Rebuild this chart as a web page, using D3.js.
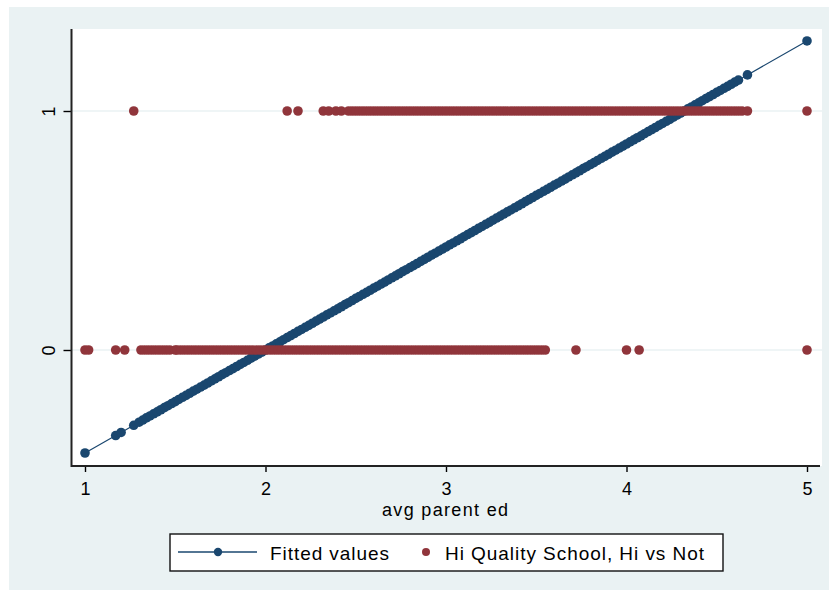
<!DOCTYPE html>
<html>
<head>
<meta charset="utf-8">
<script src="https://cdn.jsdelivr.net/npm/d3@7/dist/d3.min.js"></script>
<style>
  html, body { margin: 0; padding: 0; background: #ffffff; }
  svg { display: block; }
  text { font-family: "Liberation Sans", Arial, Helvetica, sans-serif; fill: #000; }
</style>
</head>
<body>
<svg id="chart" width="831" height="596"></svg>
<script>
// ---------------- data ----------------
const xTicks = [1, 2, 3, 4, 5];
const yTicks = [0, 1];
const xTitle = "avg parent ed";
const seriesNames = ["Fitted values", "Hi Quality School, Hi vs Not"];

// avg parent ed values of observations with Hi Quality School = 0
const loX = [1.00, 1.02, 1.17, 1.22,
  1.31, 1.33, 1.35, 1.37, 1.39, 1.41, 1.43, 1.45, 1.47, 1.50,
  1.51, 1.53, 1.55, 1.57, 1.59, 1.61, 1.63, 1.65, 1.67, 1.69,
  1.71, 1.73, 1.75, 1.77, 1.79, 1.81, 1.83, 1.85, 1.87, 1.89,
  1.91, 1.93, 1.95, 1.97, 1.99, 2.01, 2.03, 2.05, 2.07, 2.09,
  2.11, 2.13, 2.15, 2.17, 2.19, 2.21, 2.23, 2.25, 2.27, 2.29,
  2.31, 2.33, 2.35, 2.37, 2.39, 2.41, 2.43, 2.45, 2.47, 2.49,
  2.51, 2.53, 2.55, 2.57, 2.59, 2.61, 2.63, 2.65, 2.67, 2.69,
  2.71, 2.73, 2.75, 2.77, 2.79, 2.81, 2.83, 2.85, 2.87, 2.89,
  2.91, 2.93, 2.95, 2.97, 2.99, 3.01, 3.03, 3.05, 3.07, 3.09,
  3.11, 3.13, 3.15, 3.17, 3.19, 3.21, 3.23, 3.25, 3.27, 3.29,
  3.31, 3.33, 3.35, 3.37, 3.39, 3.41, 3.43, 3.45, 3.47, 3.49,
  3.51, 3.53, 3.55,
  3.72, 4.00, 4.07, 5.00];

// avg parent ed values of observations with Hi Quality School = 1
const hiX = [1.27, 2.12, 2.18, 2.32, 2.35, 2.39, 2.42,
  2.46, 2.48, 2.50, 2.52, 2.54, 2.56, 2.58, 2.60, 2.62, 2.64,
  2.66, 2.68, 2.70, 2.72, 2.74, 2.76, 2.78, 2.80, 2.82, 2.84,
  2.86, 2.88, 2.90, 2.92, 2.94, 2.96, 2.98, 3.00, 3.02, 3.04,
  3.06, 3.08, 3.10, 3.12, 3.14, 3.16, 3.18, 3.20, 3.22, 3.24,
  3.26, 3.28, 3.30, 3.32, 3.34, 3.36, 3.38, 3.40, 3.42, 3.44,
  3.46, 3.48, 3.50, 3.52, 3.54, 3.56, 3.58, 3.60, 3.62, 3.64,
  3.66, 3.68, 3.70, 3.72, 3.74, 3.76, 3.78, 3.80, 3.82, 3.84,
  3.86, 3.88, 3.90, 3.92, 3.94, 3.96, 3.98, 4.00, 4.02, 4.04,
  4.06, 4.08, 4.10, 4.12, 4.14, 4.16, 4.18, 4.20, 4.22, 4.24,
  4.26, 4.28, 4.30, 4.32, 4.34, 4.36, 4.38, 4.40, 4.42, 4.44,
  4.46, 4.48, 4.50, 4.52, 4.54, 4.56, 4.58, 4.60, 4.62, 4.64,
  4.67, 5.00];

// fitted values (linear fit), at each distinct avg parent ed
const fitX = [1.00, 1.17, 1.20, 1.27,
  1.30, 1.32, 1.34, 1.36, 1.38, 1.40, 1.42, 1.44, 1.46, 1.48,
  1.50, 1.52, 1.54, 1.56, 1.58, 1.60, 1.62, 1.64, 1.66, 1.68,
  1.70, 1.72, 1.74, 1.76, 1.78, 1.80, 1.82, 1.84, 1.86, 1.88,
  1.90, 1.92, 1.94, 1.96, 1.98, 2.00, 2.02, 2.04, 2.06, 2.08,
  2.10, 2.12, 2.14, 2.16, 2.18, 2.20, 2.22, 2.24, 2.26, 2.28,
  2.30, 2.32, 2.34, 2.36, 2.38, 2.40, 2.42, 2.44, 2.46, 2.48,
  2.50, 2.52, 2.54, 2.56, 2.58, 2.60, 2.62, 2.64, 2.66, 2.68,
  2.70, 2.72, 2.74, 2.76, 2.78, 2.80, 2.82, 2.84, 2.86, 2.88,
  2.90, 2.92, 2.94, 2.96, 2.98, 3.00, 3.02, 3.04, 3.06, 3.08,
  3.10, 3.12, 3.14, 3.16, 3.18, 3.20, 3.22, 3.24, 3.26, 3.28,
  3.30, 3.32, 3.34, 3.36, 3.38, 3.40, 3.42, 3.44, 3.46, 3.48,
  3.50, 3.52, 3.54, 3.56, 3.58, 3.60, 3.62, 3.64, 3.66, 3.68,
  3.70, 3.72, 3.74, 3.76, 3.78, 3.80, 3.82, 3.84, 3.86, 3.88,
  3.90, 3.92, 3.94, 3.96, 3.98, 4.00, 4.02, 4.04, 4.06, 4.08,
  4.10, 4.12, 4.14, 4.16, 4.18, 4.20, 4.22, 4.24, 4.26, 4.28,
  4.30, 4.32, 4.34, 4.36, 4.38, 4.40, 4.42, 4.44, 4.46, 4.48,
  4.50, 4.52, 4.54, 4.56, 4.58, 4.60, 4.62,
  4.67, 5.00];
const fitY = [-0.431, -0.358, -0.345, -0.315,
  -0.302, -0.293, -0.284, -0.276, -0.267, -0.259, -0.250, -0.241, -0.233, -0.224,
  -0.216, -0.207, -0.198, -0.190, -0.181, -0.172, -0.164, -0.155, -0.147, -0.138,
  -0.129, -0.121, -0.112, -0.103, -0.095, -0.086, -0.078, -0.069, -0.060, -0.052,
  -0.043, -0.034, -0.026, -0.017, -0.009, 0.000, 0.009, 0.017, 0.026, 0.034,
  0.043, 0.052, 0.060, 0.069, 0.078, 0.086, 0.095, 0.103, 0.112, 0.121,
  0.129, 0.138, 0.147, 0.155, 0.164, 0.172, 0.181, 0.190, 0.198, 0.207,
  0.216, 0.224, 0.233, 0.241, 0.250, 0.259, 0.267, 0.276, 0.284, 0.293,
  0.302, 0.310, 0.319, 0.328, 0.336, 0.345, 0.353, 0.362, 0.371, 0.379,
  0.388, 0.397, 0.405, 0.414, 0.422, 0.431, 0.440, 0.448, 0.457, 0.465,
  0.474, 0.483, 0.491, 0.500, 0.509, 0.517, 0.526, 0.534, 0.543, 0.552,
  0.560, 0.569, 0.578, 0.586, 0.595, 0.603, 0.612, 0.621, 0.629, 0.638,
  0.647, 0.655, 0.664, 0.672, 0.681, 0.690, 0.698, 0.707, 0.715, 0.724,
  0.733, 0.741, 0.750, 0.759, 0.767, 0.776, 0.784, 0.793, 0.802, 0.810,
  0.819, 0.828, 0.836, 0.845, 0.853, 0.862, 0.871, 0.879, 0.888, 0.896,
  0.905, 0.914, 0.922, 0.931, 0.940, 0.948, 0.957, 0.965, 0.974, 0.983,
  0.991, 1.000, 1.009, 1.017, 1.026, 1.034, 1.043, 1.052, 1.060, 1.069,
  1.078, 1.086, 1.095, 1.103, 1.112, 1.121, 1.129,
  1.151, 1.293];

// ---------------- drawing ----------------
const svg = d3.select("#chart");
const navy = "#1a476f", maroon = "#90353b", bg = "#eaf2f3";

const plot = { left: 72, right: 822, top: 29, bottom: 466 };
const x = d3.scaleLinear().domain([1, 5]).range([85, 807]);
const y = d3.scaleLinear().domain([0, 1]).range([350, 111]);

// graph region
svg.append("rect").attr("x", 9).attr("y", 7).attr("width", 820).attr("height", 583).attr("fill", bg);
// plot region
svg.append("rect").attr("x", plot.left).attr("y", plot.top)
  .attr("width", plot.right - plot.left).attr("height", plot.bottom - plot.top).attr("fill", "#fff");

// grid lines
svg.append("g").selectAll("line").data(yTicks).join("line")
  .attr("x1", plot.left).attr("x2", plot.right)
  .attr("y1", d => y(d)).attr("y2", d => y(d))
  .attr("stroke", bg).attr("stroke-width", 1.5);

// fitted values
const fitData = fitX.map((v, i) => ({ x: v, y: fitY[i] }));
svg.append("path").datum(fitData)
  .attr("d", d3.line().x(d => x(d.x)).y(d => y(d.y)))
  .attr("fill", "none").attr("stroke", navy).attr("stroke-width", 1.2);
svg.append("g").selectAll("circle").data(fitData).join("circle")
  .attr("cx", d => x(d.x)).attr("cy", d => y(d.y)).attr("r", 4.8).attr("fill", navy);

// scatter
const pts = loX.map(v => ({ x: v, y: 0 })).concat(hiX.map(v => ({ x: v, y: 1 })));
svg.append("g").selectAll("circle").data(pts).join("circle")
  .attr("cx", d => x(d.x)).attr("cy", d => y(d.y)).attr("r", 4.8).attr("fill", maroon);

// axes
const fontSize = 19;
const xAxis = svg.append("g").attr("transform", `translate(0,${plot.bottom})`)
  .call(d3.axisBottom(x).tickValues(xTicks).tickFormat(d3.format("d")).tickSize(6));
xAxis.select(".domain").remove();
xAxis.selectAll(".tick line").attr("stroke", "#000").attr("stroke-width", 1.4);
xAxis.selectAll(".tick text").attr("y", 29).attr("dy", null)
  .attr("font-size", 18).attr("font-family", '"Liberation Sans", Arial, sans-serif');
xAxis.append("line").attr("x1", plot.left - 1).attr("x2", plot.right - 2)
  .attr("y1", 0).attr("y2", 0).attr("stroke", "#222").attr("stroke-width", 2);

const yAxis = svg.append("g").attr("transform", `translate(${plot.left - 0.5},0)`)
  .call(d3.axisLeft(y).tickValues(yTicks).tickFormat(d3.format("d")).tickSize(8));
yAxis.select(".domain").remove();
yAxis.selectAll(".tick line").attr("stroke", "#000").attr("stroke-width", 1.4);
yAxis.selectAll(".tick text").attr("x", null).attr("dy", null)
  .attr("transform", "translate(-17,0) rotate(-90)").attr("text-anchor", "middle")
  .attr("font-size", 18).attr("font-family", '"Liberation Sans", Arial, sans-serif');
yAxis.append("line").attr("x1", 0).attr("x2", 0)
  .attr("y1", plot.top).attr("y2", plot.bottom + 1).attr("stroke", "#222").attr("stroke-width", 2);

// x title
svg.append("text").attr("x", 445).attr("y", 516).attr("text-anchor", "middle")
  .attr("font-size", 18).attr("textLength", 126).attr("lengthAdjust", "spacing").text(xTitle);

// legend
const lg = svg.append("g");
lg.append("rect").attr("x", 170).attr("y", 534).attr("width", 553).attr("height", 37)
  .attr("fill", "#fff").attr("stroke", "#111").attr("stroke-width", 1.4);
lg.append("line").attr("x1", 178).attr("x2", 257).attr("y1", 552).attr("y2", 552)
  .attr("stroke", navy).attr("stroke-width", 1.3);
lg.append("circle").attr("cx", 218).attr("cy", 552).attr("r", 4.2).attr("fill", navy);
lg.append("text").attr("x", 270).attr("y", 560).attr("font-size", fontSize)
  .attr("textLength", 119).attr("lengthAdjust", "spacing").text(seriesNames[0]);
lg.append("circle").attr("cx", 426).attr("cy", 552).attr("r", 4).attr("fill", maroon);
lg.append("text").attr("x", 445).attr("y", 560).attr("font-size", fontSize)
  .attr("textLength", 259).attr("lengthAdjust", "spacing").text(seriesNames[1]);
</script>
</body>
</html>
